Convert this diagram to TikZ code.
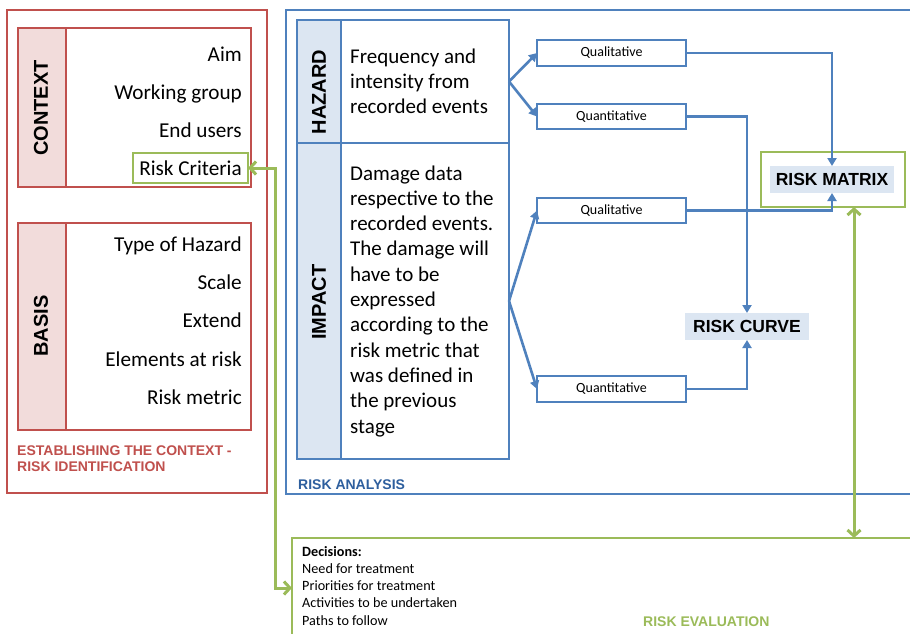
\documentclass[tikz,border=0pt]{standalone}
\usepackage{fontspec}
\setmainfont{Carlito}
\newfontfamily\arialf{Liberation Sans}
\usetikzlibrary{arrows.meta,calc}
\definecolor{cred}{HTML}{C0504D}
\definecolor{cpink}{HTML}{F2DCDB}
\definecolor{cblue}{HTML}{4F81BD}
\definecolor{cblued}{HTML}{2E5F9E}
\definecolor{clblue}{HTML}{DCE6F2}
\definecolor{cgreen}{HTML}{9BBB59}
\begin{document}
\begin{tikzpicture}[x=1pt,y=-1pt,
  bx/.style={inner sep=0pt,outer sep=0pt,anchor=north west},
  redbox/.style={bx,draw=cred,line width=2.4pt},
  bluebox/.style={bx,draw=cblue,line width=1.6pt},
  greenbox/.style={bx,draw=cgreen,line width=2.4pt},
  item/.style={anchor=base east,inner sep=0pt,font=\fontsize{21.2}{24}\selectfont},
  para/.style={anchor=base west,inner sep=0pt,font=\fontsize{21}{24}\selectfont},
  vlab/.style={rotate=90,inner sep=0pt,font=\arialf\bfseries\fontsize{20}{24}\selectfont},
  sect/.style={anchor=base west,inner sep=0pt,font=\arialf\bfseries\fontsize{14}{16}\selectfont},
  small/.style={font=\fontsize{14}{16}\selectfont},
  declines/.style={anchor=base west,inner sep=0pt,font=\fontsize{14.2}{16}\selectfont},
  result/.style={bx,fill=clblue,font=\arialf\bfseries\fontsize{17.5}{20}\selectfont},
  barrow/.style={draw=cblue,line width=2.6pt,-{Triangle[length=8pt,width=9pt]}},
  garrow/.style={draw=cgreen,line width=3pt,{Straight Barb[length=6pt,width=13pt,line width=3pt]}-{Straight Barb[length=6pt,width=13pt,line width=3pt]}}
]
\useasboundingbox (0,0) rectangle (910,633);
\clip (0,0) rectangle (910,633);
\fill[white] (0,0) rectangle (910,633);

% ---------------- establishing the context ----------------
\node[redbox,minimum width=260pt,minimum height=483pt] (estab) at (7,10) {};
\node[bx,fill=cpink,minimum width=48pt,minimum height=159pt] (ctxlab) at (18,28) {};
\node[redbox,minimum width=233pt,minimum height=159pt] (ctx) at (18,28) {};
\draw[cred,line width=2.4pt] (66,28) -- (66,187);
\node[vlab] (ctxt) at (41,108) {CONTEXT};
\node[item] (aim) at (242,61) {Aim};
\node[item] (wg) at (242,99) {Working group};
\node[item] (eu) at (242,137) {End users};
\node[greenbox,minimum width=115pt,minimum height=30pt,font=\fontsize{21.2}{24}\selectfont] (rc) at (133,153) {Risk Criteria};

\node[bx,fill=cpink,minimum width=48pt,minimum height=207pt] (baslab) at (18,223) {};
\node[redbox,minimum width=233pt,minimum height=207pt] (bas) at (18,223) {};
\draw[cred,line width=2.4pt] (66,223) -- (66,430);
\node[vlab] (bast) at (41,326) {BASIS};
\node[item] (toh) at (242,251) {Type of Hazard};
\node[item] (scl) at (242,289) {Scale};
\node[item] (ext) at (242,327.5) {Extend};
\node[item] (ear) at (242,366) {Elements at risk};
\node[item] (rm) at (242,404) {Risk metric};
\node[sect,text=cred] (est1) at (17,455) {ESTABLISHING THE CONTEXT -};
\node[sect,text=cred] (est2) at (17,471) {RISK IDENTIFICATION};

% ---------------- risk analysis ----------------
\node[bx,draw=cblue,line width=2.4pt,minimum width=640pt,minimum height=484pt] (ana) at (286,10) {};
\node[sect,text=cblued] (anat) at (298,489) {RISK ANALYSIS};

\node[bx,fill=clblue,minimum width=44pt,minimum height=123pt] (hazlab) at (297,20) {};
\node[bluebox,minimum width=212pt,minimum height=123pt] (haz) at (297,20) {};
\draw[cblue,line width=1.6pt] (341,20) -- (341,143);
\node[vlab] (hazt) at (319,92) {HAZARD};
\node[para] (h1) at (350,63.3) {Frequency and};
\node[para] (h2) at (350,88.3) {intensity from};
\node[para] (h3) at (350,113.3) {recorded events};

\node[bx,fill=clblue,minimum width=44pt,minimum height=316pt] (implab) at (297,143) {};
\node[bluebox,minimum width=212pt,minimum height=316pt] (imp) at (297,143) {};
\draw[cblue,line width=1.6pt] (341,143) -- (341,459);
\node[vlab] (impt) at (319,302) {IMPACT};
\foreach \t [count=\i from 0] in {Damage data,respective to the,recorded events.,The damage will,have to be,expressed,according to the,risk metric that,was defined in,the previous,stage}
  \node[para] (i\i) at (350,180+25.3*\i) {\t};

\node[bluebox,small,minimum width=149pt,minimum height=26pt] (qual1) at (537,40) {Qualitative};
\node[bluebox,small,minimum width=149pt,minimum height=25pt] (quant1) at (537,104) {Quantitative};
\node[bluebox,small,minimum width=149pt,minimum height=25pt] (qual2) at (537,198) {Qualitative};
\node[bluebox,small,minimum width=149pt,minimum height=26pt] (quant2) at (537,376) {Quantitative};

\node[greenbox,minimum width=144pt,minimum height=55pt] (mat) at (761,152) {};
\node[result,minimum width=124pt,minimum height=27pt] (matin) at (770,166) {RISK MATRIX};
\node[result,minimum width=124pt,minimum height=27pt] (curve) at (685,313) {RISK CURVE};

\draw[barrow] (haz.east) -- (qual1.west);
\draw[barrow] (haz.east) -- (quant1.west);
\draw[barrow] (imp.east) -- (qual2.west);
\draw[barrow] (imp.east) -- (quant2.west);
\draw[barrow] (qual1.east) -| (matin.north);
\draw[barrow] (qual2.east) -| (matin.south);
\draw[barrow] (quant1.east) -| (curve.north);
\draw[barrow] (quant2.east) -| (curve.south);

% ---------------- risk evaluation ----------------
\node[greenbox,minimum width=640pt,minimum height=120pt] (dec) at (292,538) {};
\node[declines,font=\bfseries\fontsize{14.2}{16}\selectfont] (d0) at (302,556) {Decisions:};
\node[declines] (d1) at (302,573.3) {Need for treatment};
\node[declines] (d2) at (302,590.6) {Priorities for treatment};
\node[declines] (d3) at (302,607.9) {Activities to be undertaken};
\node[declines] (d4) at (302,625.2) {Paths to follow};
\node[sect,text=cgreen] (evt) at (643,626) {RISK EVALUATION};

\coordinate (gcorner) at (275,588);
\coordinate (gx) at (854,0);
\draw[garrow] (rc.east) -| (gcorner) -- (gcorner -| dec.west);
\draw[garrow] (mat.south -| gx) -- (dec.north -| gx);
\end{tikzpicture}
\end{document}
